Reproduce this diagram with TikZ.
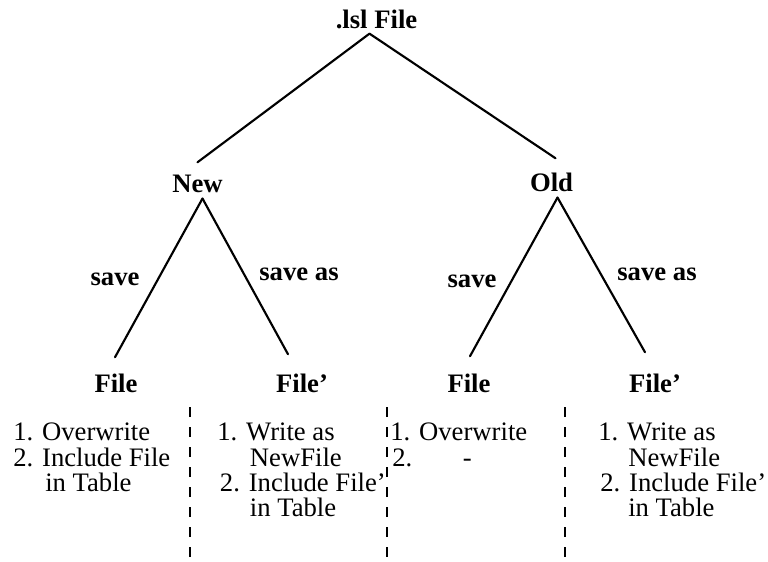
\documentclass[tikz,border=0pt]{standalone}
\usepackage{fontspec}
\setmainfont{Liberation Serif}
\usetikzlibrary{calc}
\begin{document}
\begin{tikzpicture}[x=0.75pt,y=-0.75pt,
  label/.style={font=\bfseries\fontsize{20}{22}\selectfont, inner sep=0pt, anchor=base},
  item/.style={font=\fontsize{20}{19}\selectfont, align=left, inner sep=0pt, anchor=north west},
  branch/.style={line width=1.6pt, line cap=round},
  divider/.style={line width=1.4pt, dash pattern=on 7.5pt off 7.5pt}]
\useasboundingbox (0,0) rectangle (768,561);

% tree labels
\node[label] (lsl) at (376.5,28) {.lsl File};
\node[label] (new) at (197.5,192) {New};
\node[label] (old) at (551.5,191) {Old};
\node[label] (f1) at (116,392) {File};
\node[label] (f2) at (302,392) {File'};
\node[label] (f3) at (469,392) {File};
\node[label] (f4) at (655,392) {File'};

% edge labels
\node[label] (s1) at (115,285) {save};
\node[label] (sa1) at (299,280) {save as};
\node[label] (s2) at (472,287) {save};
\node[label] (sa2) at (657,280) {save as};

% branches
\draw[branch] ($(lsl.south)+(-7,5)$) -- ($(new.north)+(0,-12)$);
\draw[branch] ($(lsl.south)+(-7,5)$) -- ($(old.north)+(4,-14)$);
\draw[branch] ($(new.south)+(5,6)$) -- ($(f1.north)+(-1,-16)$);
\draw[branch] ($(new.south)+(5,6)$) -- ($(f2.north)+(-14,-19)$);
\draw[branch] ($(old.south)+(6,6)$) -- ($(f3.north)+(1,-17)$);
\draw[branch] ($(old.south)+(6,6)$) -- ($(f4.north)+(-10,-21)$);

% actions under each leaf
\node[item] (a1) at (13,423) {1. Overwrite\\2. Include File\\\hspace*{24pt}in Table};
\node[item] (a2) at (217,423) {1. Write as\\\hspace*{24.5pt}NewFile\\\hspace*{2pt}2. Include File'\\\hspace*{24.5pt}in Table};
\node[item] (a3) at (390,423) {1. Overwrite\\\hspace*{1.5pt}2.\hspace*{38pt}-};
\node[item] (a4) at (598,423) {1. Write as\\\hspace*{22.5pt}NewFile\\\hspace*{1.5pt}2. Include File'\\\hspace*{22.5pt}in Table};

% column separators
\draw[divider] (190,407) -- (190,561);
\draw[divider] (387,407) -- (387,561);
\draw[divider] (565,407) -- (565,561);
\end{tikzpicture}
\end{document}
